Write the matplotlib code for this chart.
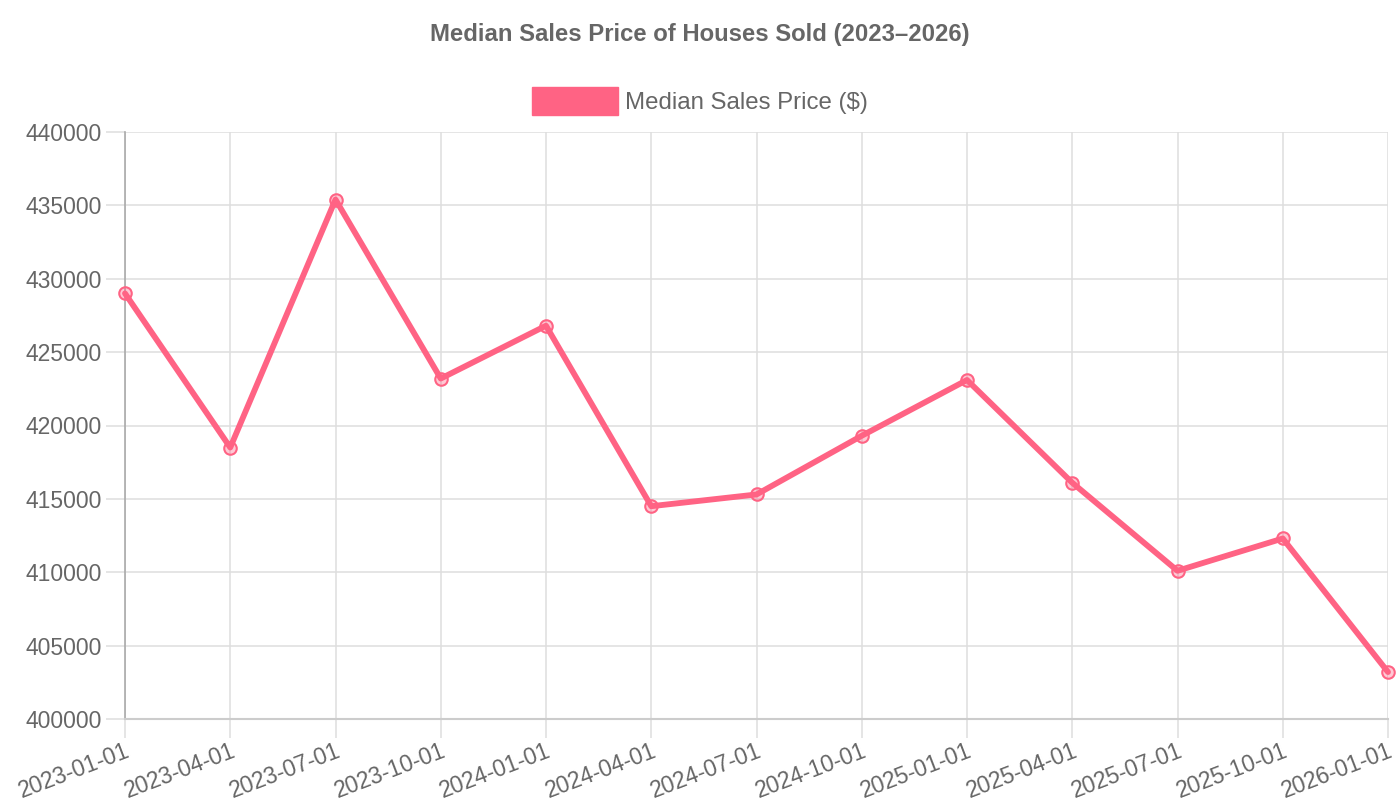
import numpy as np
import matplotlib
matplotlib.use("Agg")
from matplotlib import pyplot as plt
from matplotlib.patches import Patch

plt.rcParams['font.family'] = ['Liberation Sans', 'DejaVu Sans']

# data
dates = ['2023-01-01', '2023-04-01', '2023-07-01', '2023-10-01', '2024-01-01',
         '2024-04-01', '2024-07-01', '2024-10-01', '2025-01-01', '2025-04-01',
         '2025-07-01', '2025-10-01', '2026-01-01']
prices = [429000, 418500, 435400, 423200, 426800, 414500, 415300,
          419300, 423100, 416100, 410100, 412300, 403200]
yticks = [400000, 405000, 410000, 415000, 420000, 425000, 430000, 435000, 440000]

line_color = '#ff6384'
text_color = '#666666'
grid_color = '#dedede'

fig = plt.figure(figsize=(14, 8), dpi=100)
ax = fig.add_axes([125 / 1400, 1 - 719 / 800, (1388 - 125) / 1400, (719 - 132) / 800])

x = np.arange(len(dates))
ax.plot(x, prices, color=line_color, lw=4.2, zorder=3,
        marker='o', markersize=9, markeredgewidth=1.5,
        markeredgecolor=line_color, markerfacecolor=(1, 0.39, 0.52, 0.35),
        clip_on=False, solid_capstyle='round', solid_joinstyle='round')

ax.set_xlim(0, len(dates) - 1)
ax.set_ylim(yticks[0], yticks[-1])
ax.set_xticks(x)
ax.set_xticklabels(dates, rotation=21, ha='right', va='top', rotation_mode='anchor')
ax.set_yticks(yticks)
ax.set_yticklabels([str(v) for v in yticks])

ax.grid(True, color=grid_color, lw=1.1, zorder=0)
ax.tick_params(axis='both', colors=grid_color, length=14, width=1.1,
               labelcolor=text_color, labelsize=16.5)
ax.tick_params(axis='y', pad=3)
ax.tick_params(axis='x', pad=0.5)

for s in ['top', 'right']:
    ax.spines[s].set_visible(False)
ax.spines['left'].set_color('#aaaaaa')
ax.spines['left'].set_linewidth(1.2)
ax.spines['bottom'].set_color('#cccccc')
ax.spines['bottom'].set_linewidth(1.5)

fig.text(0.5, 1 - 34 / 800, 'Median Sales Price of Houses Sold (2023–2026)',
         ha='center', va='center', fontsize=17.2, fontweight='bold', color=text_color)

handle = Patch(facecolor=line_color, edgecolor=line_color, label='Median Sales Price ($)')
fig.legend(handles=[handle], loc='center', bbox_to_anchor=(0.5, 1 - 101 / 800),
           frameon=False, fontsize=17.3, labelcolor=text_color,
           handlelength=3.55, handleheight=1.45, handletextpad=0.3)

fig.savefig('out.png', dpi=100)
